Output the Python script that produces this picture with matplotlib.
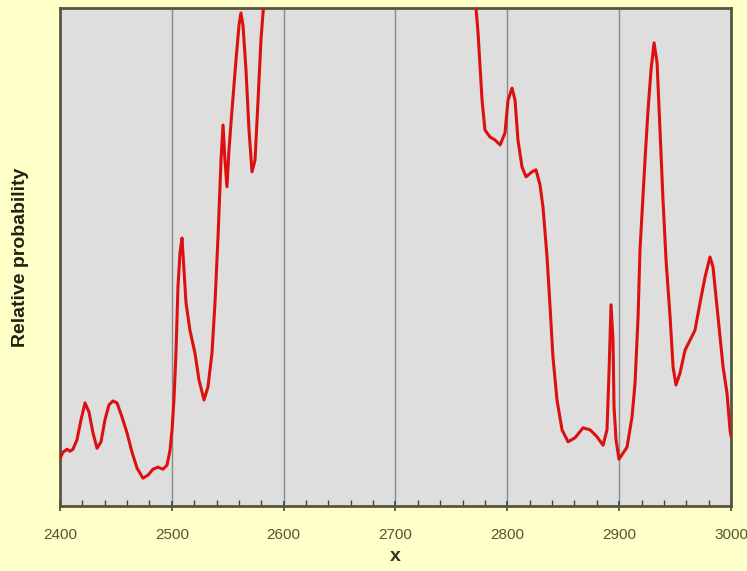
import matplotlib
matplotlib.use("Agg")
import matplotlib.pyplot as plt
from matplotlib.ticker import MultipleLocator

plt.rcParams["font.family"] = ["Liberation Sans", "DejaVu Sans"]

# curve (y as fraction of the plot height; >1 is clipped)
x_vals = [2400, 2402.7, 2406.3, 2408.9, 2411.6, 2415.2, 2418.8, 2422.4, 2425.9, 2429.5,
          2433.1, 2436.7, 2440.2, 2443.8, 2447.4, 2451.0, 2455.4, 2459.9, 2464.4, 2468.9,
          2474.2, 2478.7, 2483.2, 2487.6, 2492.1, 2495.7, 2498.4, 2500.2, 2501.9,
          2503.7, 2505.5, 2507.3, 2509.1, 2510.9, 2512.7, 2516.2, 2520.7, 2524.3, 2528.8,
          2532.3, 2535.9, 2538.6, 2541.3, 2544.0, 2545.8, 2547.5, 2549.3, 2551.1, 2553.8,
          2557.4, 2560.1, 2561.8, 2563.6, 2566.3, 2569.0, 2571.7, 2574.4, 2577.1, 2579.7,
          2582.4,
          2600, 2650, 2700, 2750, 2768,
          2772.0, 2773.8, 2777.4, 2780.0, 2784.5, 2789.0, 2793.5, 2797.9, 2800.6, 2804.2,
          2806.9, 2809.5, 2813.1, 2816.7, 2822.1, 2825.6, 2829.2, 2831.9, 2835.5, 2838.2,
          2840.8, 2844.4, 2848.9, 2854.3, 2860.5, 2867.7, 2874.0, 2880.2, 2885.6, 2889.1,
          2890.9, 2892.7, 2894.5, 2895.4, 2897.2, 2899.8, 2907.0, 2911.5, 2914.2, 2916.9,
          2918.6, 2920.4, 2923.1, 2925.8, 2928.5, 2931.2, 2933.9, 2936.5, 2939.2, 2941.9,
          2945.5, 2948.2, 2950.8, 2954.4, 2958.9, 2963.4, 2967.8, 2972.3, 2976.8, 2981.2,
          2983.9, 2988.4, 2992.9, 2996.4, 2999.1, 3000]
y_vals = [0.096, 0.108, 0.114, 0.110, 0.114, 0.133, 0.173, 0.207, 0.189, 0.147,
          0.116, 0.129, 0.173, 0.203, 0.211, 0.207, 0.179, 0.147, 0.108, 0.076,
          0.056, 0.062, 0.074, 0.078, 0.074, 0.082, 0.112, 0.153, 0.213,
          0.307, 0.440, 0.508, 0.538, 0.474, 0.408, 0.353, 0.307, 0.253, 0.213,
          0.239, 0.307, 0.408, 0.540, 0.695, 0.765, 0.695, 0.641, 0.715, 0.795,
          0.896, 0.966, 0.990, 0.966, 0.876, 0.755, 0.671, 0.695, 0.815, 0.936,
          1.016,
          1.4, 1.7, 1.8, 1.5, 1.1,
          1.000, 0.950, 0.815, 0.755, 0.741, 0.735, 0.725, 0.749, 0.815, 0.839,
          0.815, 0.735, 0.681, 0.661, 0.671, 0.675, 0.645, 0.600, 0.500, 0.400,
          0.299, 0.213, 0.153, 0.129, 0.137, 0.157, 0.153, 0.139, 0.122, 0.153,
          0.267, 0.404, 0.333, 0.199, 0.133, 0.094, 0.118, 0.179, 0.247, 0.380,
          0.514, 0.586, 0.695, 0.795, 0.876, 0.930, 0.890, 0.755, 0.614, 0.494,
          0.380, 0.279, 0.243, 0.267, 0.313, 0.333, 0.353, 0.408, 0.460, 0.500,
          0.480, 0.380, 0.279, 0.227, 0.153, 0.140]
x_ticks = [2400, 2500, 2600, 2700, 2800, 2900, 3000]

fig = plt.figure(figsize=(7.47, 5.71), dpi=100, facecolor="#ffffc8")
ax = fig.add_axes([0.0803, 0.1138, 0.8983, 0.8722])
ax.set_facecolor("#dedede")

for xv in x_ticks[1:-1]:
    ax.axvline(xv, color="#8a8a8a", linewidth=1, zorder=1)

ax.plot(x_vals, y_vals, color="#dd1010", linewidth=2.2, zorder=3,
        solid_joinstyle="round")

ax.set_xlim(2400, 3000)
ax.set_ylim(0, 1)
ax.set_xticks(x_ticks)
ax.xaxis.set_minor_locator(MultipleLocator(20))
ax.set_yticks([])
ax.tick_params(axis="x", which="major", direction="inout", length=7, width=1.2,
               color="#444433", labelsize=11, labelcolor="#555533", pad=12)
ax.tick_params(axis="x", which="minor", direction="in", length=4, width=1, color="#444433")

for s in ax.spines.values():
    s.set_color("#555544")
    s.set_linewidth(2)

ax.set_xlabel("x", fontsize=14, fontweight="bold", color="#333322", labelpad=5)
ax.set_ylabel("Relative probability", fontsize=14, fontweight="bold", color="#222211",
              labelpad=22)

fig.savefig("out.png", dpi=100, facecolor=fig.get_facecolor())
